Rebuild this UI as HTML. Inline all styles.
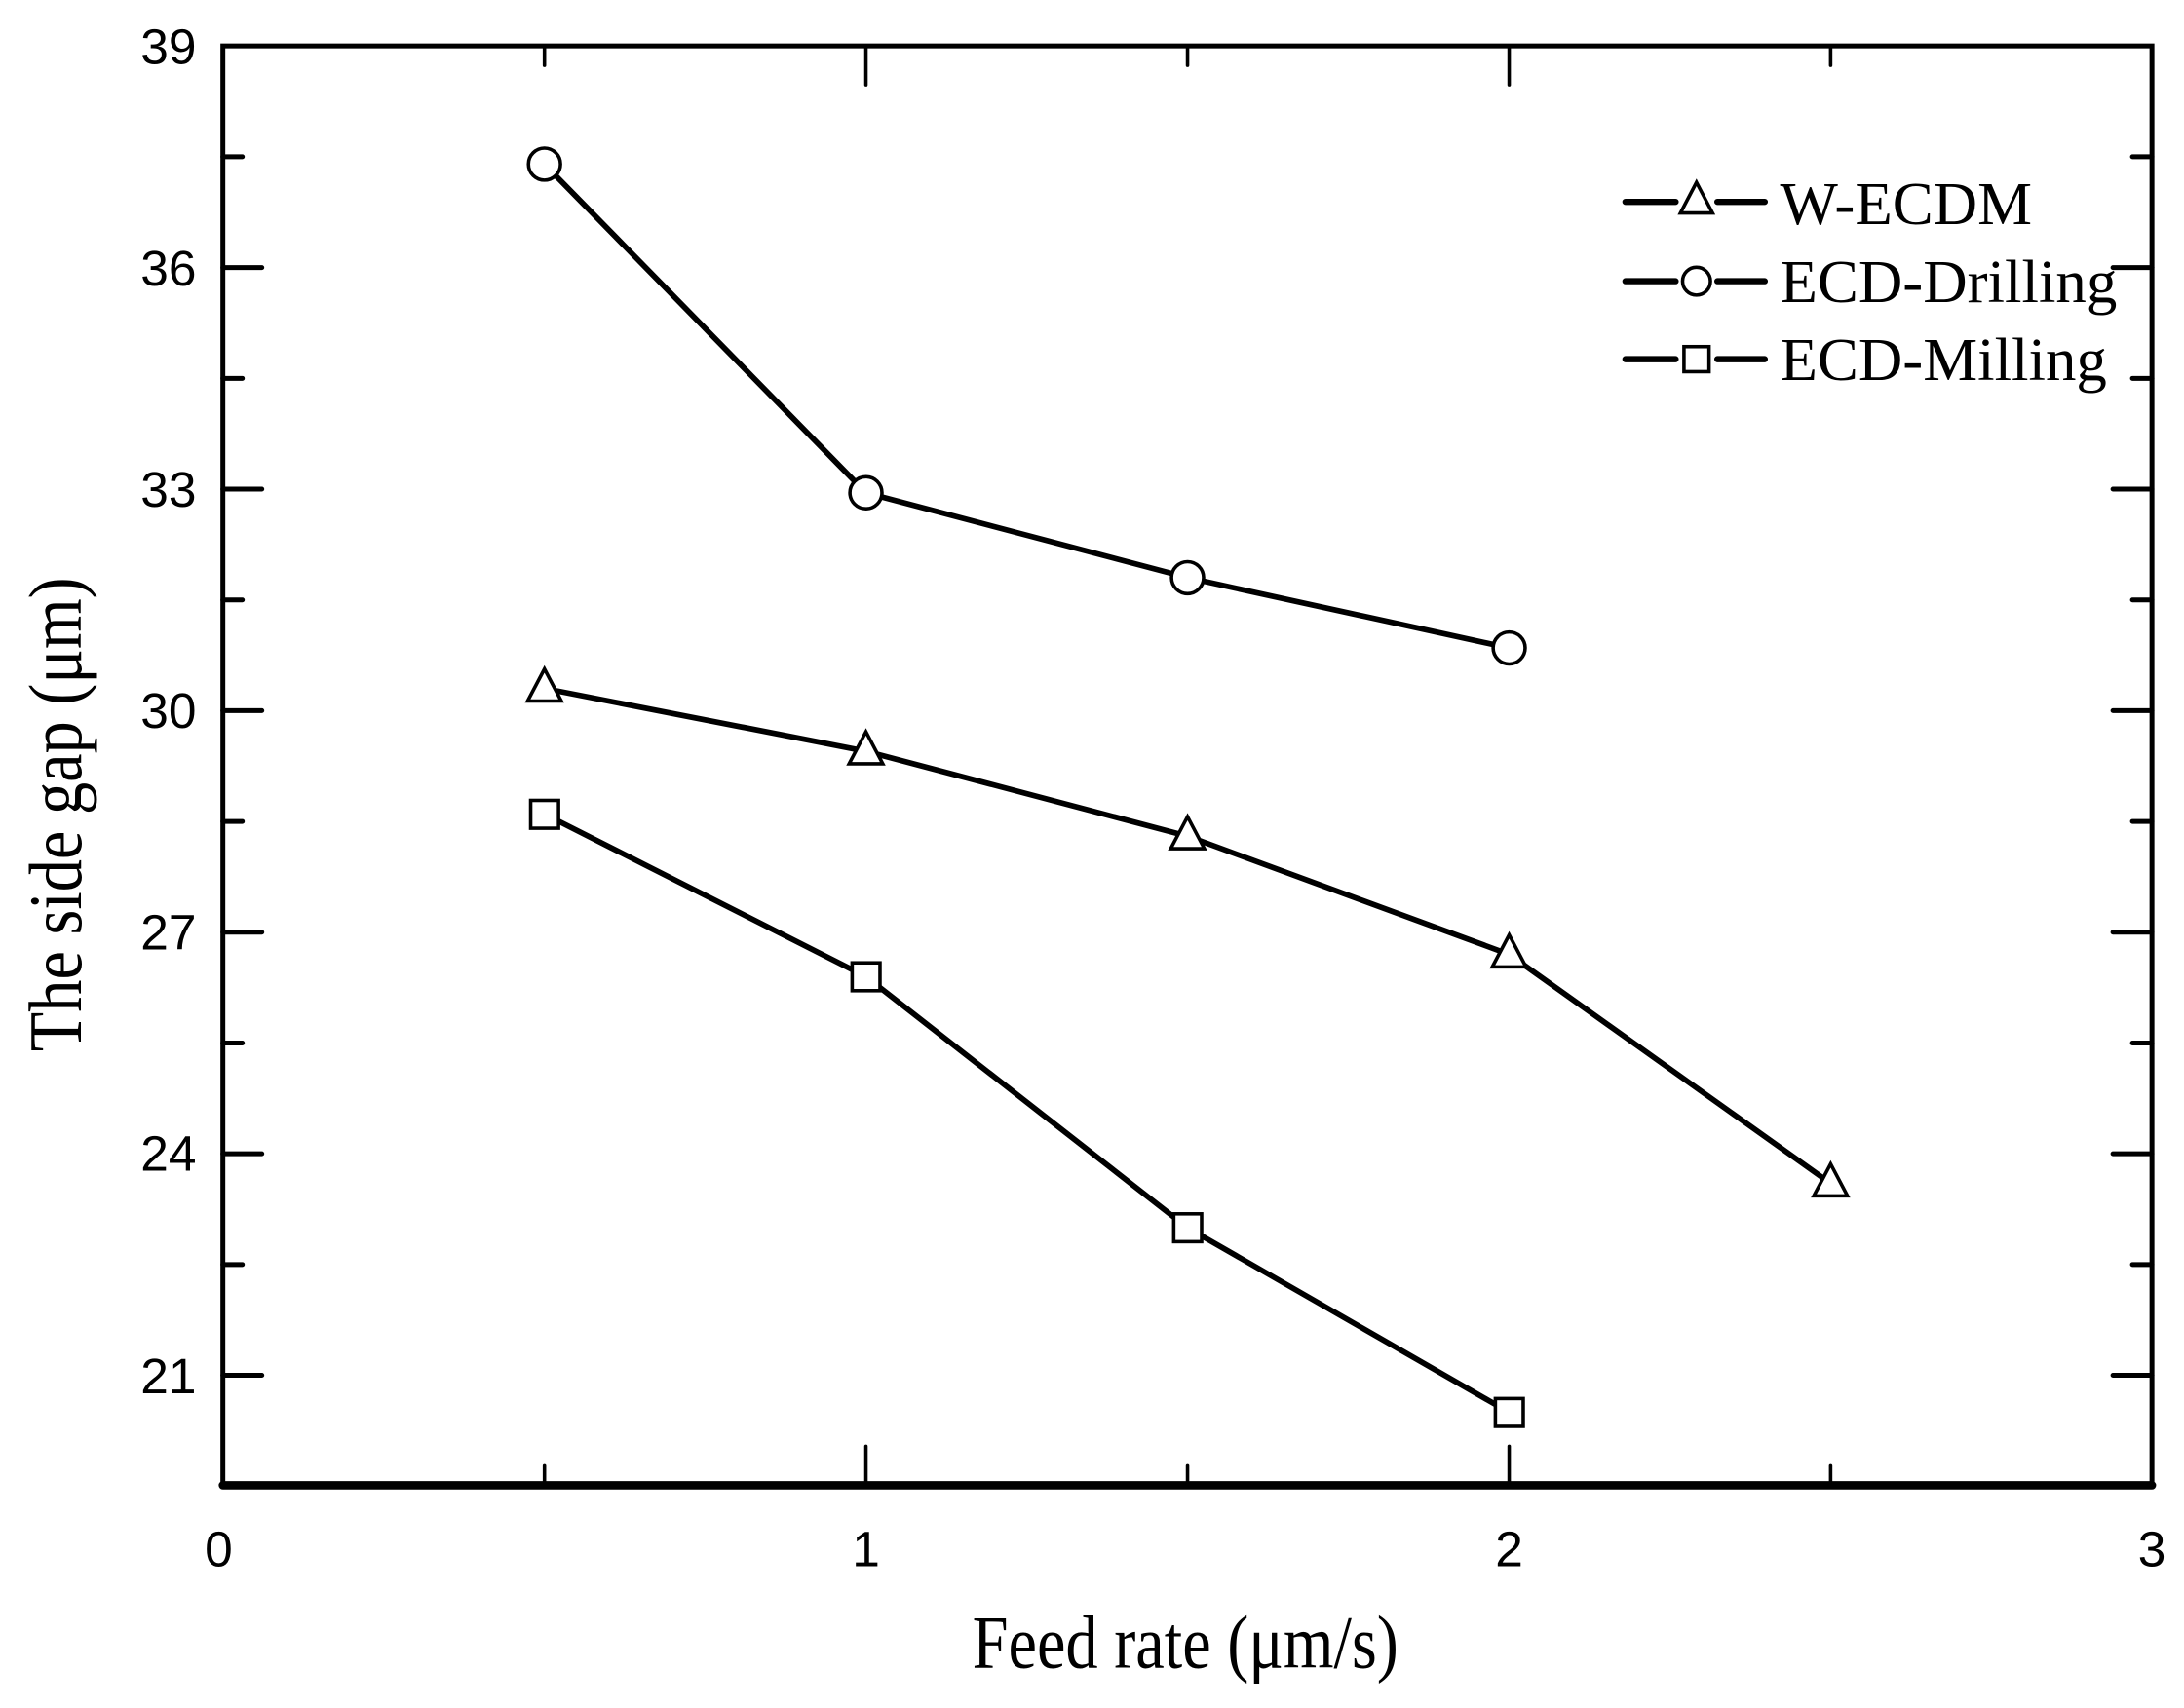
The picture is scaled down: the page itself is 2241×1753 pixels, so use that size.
<!DOCTYPE html>
<html><head><meta charset="utf-8"><style>html,body{margin:0;padding:0;background:#fff}svg{display:block}</style></head>
<body>
<svg width="2241" height="1753" viewBox="0 0 1568 1227" preserveAspectRatio="none" xmlns="http://www.w3.org/2000/svg">
<rect width="1568" height="1227" fill="#fff"/>
<g stroke="#000" stroke-width="4" fill="none" stroke-linecap="round">
<rect x="160" y="33" width="1385" height="1034" stroke-width="3.5"/>
<path d="M160,1067H1545" stroke-width="6"/>
<path d="M160,192.2h28M160,351.4h28M160,510.5h28M160,669.7h28M160,828.8h28M160,988h28
M160,112.6h14M160,271.8h14M160,431h14M160,590.1h14M160,749.3h14M160,908.4h14
M1545,192.2h-28M1545,351.4h-28M1545,510.5h-28M1545,669.7h-28M1545,828.8h-28M1545,988h-28
M1545,112.6h-14M1545,271.8h-14M1545,431h-14M1545,590.1h-14M1545,749.3h-14M1545,908.4h-14" stroke-width="3.5"/>
<path d="M621.7,1067v-28M1083.5,1067v-28M390.9,1067v-14M852.6,1067v-14M1314.3,1067v-14
M621.7,33v28M1083.5,33v28M390.9,33v14M852.6,33v14M1314.3,33v14" stroke-width="2.5"/>
<polyline points="390.9,494.6 621.7,539.7 852.6,600.7 1083.5,685.6 1314.3,850.1"/>
<polyline points="390.9,117.9 621.7,354 852.6,415 1083.5,465.5"/>
<polyline points="390.9,584.8 621.7,701.6 852.6,882 1083.5,1014.6"/>
<path d="M1167,145h36M1233,145h34M1167,202h36M1233,202h34M1167,258h36M1233,258h34" stroke-width="4.5"/>
</g>
<g stroke="#000" stroke-width="2.5" fill="#fff">
<polygon points="390.9,480.6 403,503.6 378.8,503.6"/><polygon points="621.7,525.7 633.8,548.7 609.6,548.7"/><polygon points="852.6,586.7 864.7,609.7 840.5,609.7"/><polygon points="1083.5,671.6 1095.6,694.6 1071.4,694.6"/><polygon points="1314.3,836.1 1326.4,859.1 1302.2,859.1"/><polygon points="1218,131 1229.5,153 1206.5,153"/>
<circle cx="390.9" cy="117.9" r="11.5"/><circle cx="621.7" cy="354" r="11.5"/><circle cx="852.6" cy="415" r="11.5"/><circle cx="1083.5" cy="465.5" r="11.5"/><circle cx="1218" cy="202" r="10"/>
<rect x="381" y="575" width="20" height="20"/><rect x="611.8" y="691.7" width="20" height="20"/><rect x="842.7" y="872" width="20" height="20"/><rect x="1073.6" y="1004.7" width="20" height="20"/><rect x="1209" y="249" width="18" height="18"/>
</g>
<g font-family="'Liberation Sans',Arial,sans-serif" font-size="36" fill="#000">
<g text-anchor="end"><text x="141" y="46">39</text><text x="141" y="205">36</text><text x="141" y="364">33</text><text x="141" y="523">30</text><text x="141" y="682">27</text><text x="141" y="841">24</text><text x="141" y="1001">21</text></g>
<g text-anchor="middle"><text x="157" y="1125">0</text><text x="621.7" y="1125">1</text><text x="1083.5" y="1125">2</text><text x="1545" y="1125">3</text></g>
</g>
<g font-family="'Liberation Serif','Times New Roman',serif" fill="#000">
<text font-size="54" transform="translate(851 1198) scale(0.86 1)" text-anchor="middle">Feed rate (μm/s)</text>
<text font-size="54" transform="translate(58 585) rotate(-90) scale(0.86 1)" text-anchor="middle">The side gap (μm)</text>
<g font-size="44"><text x="1278" y="161">W-ECDM</text><text x="1278" y="217">ECD-Drilling</text><text x="1278" y="273">ECD-Milling</text></g>
</g>
</svg>
</body></html>
